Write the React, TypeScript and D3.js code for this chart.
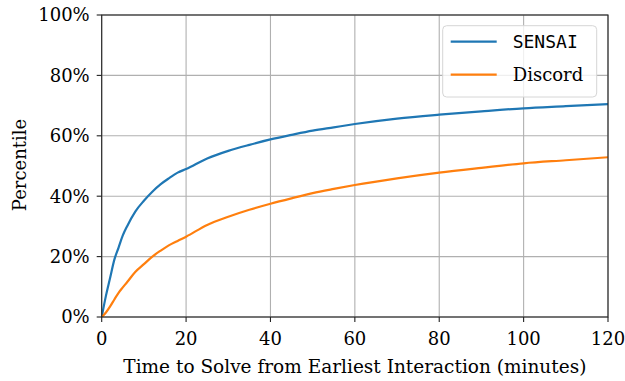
import React from "react";
import * as d3 from "d3";

// minutes since earliest interaction
const minutes = [0, 1, 2, 3, 4, 5, 6, 8, 10, 12, 14, 16, 18, 20, 25, 30, 35, 40, 45, 50, 55, 60, 70, 80, 90, 100, 110, 120];
// cumulative percentile of solved threads
const sensai = [0, 7, 13, 19, 23, 27, 30, 35, 38.5, 41.5, 44, 46, 47.8, 49, 52.5, 55, 57, 58.8, 60.3, 61.7, 62.8, 63.9, 65.7, 67, 68.1, 69.1, 69.8, 70.5];
const discord = [0, 1.5, 3.5, 5.8, 8, 9.8, 11.5, 15, 17.5, 20, 22, 23.8, 25.2, 26.6, 30.5, 33.2, 35.5, 37.5, 39.3, 41, 42.4, 43.7, 45.9, 47.8, 49.4, 50.9, 51.9, 52.9];
const xTicks = [0, 20, 40, 60, 80, 100, 120];
const yTicks = [0, 20, 40, 60, 80, 100];

const seriesNames = ["SENSAI", "Discord"];
const colors = ["#1f77b4", "#ff7f0e"];

const W = 625;
const H = 381;
const margin = { top: 15, right: 17, bottom: 64, left: 101.7 };
const serif = "DejaVu Serif";
const fs = 18;

const App: React.FC = () => {
  const iw = W - margin.left - margin.right;
  const ih = H - margin.top - margin.bottom;

  const x = d3.scaleLinear().domain([0, 120]).range([0, iw]);
  const y = d3.scaleLinear().domain([0, 100]).range([ih, 0]);

  const line = d3
    .line<number>()
    .curve(d3.curveMonotoneX)
    .x((_, i) => x(minutes[i]))
    .y(d => y(d));

  const series = [sensai, discord];

  return (
    <svg width={W} height={H} style={{ position: "absolute", left: 0, top: 0 }}>
      <rect width={W} height={H} fill="#fff" />
      <g transform={`translate(${margin.left},${margin.top})`}>
        {/* grid */}
        {xTicks.map(t => (
          <line key={"gx" + t} x1={x(t)} x2={x(t)} y1={0} y2={ih} stroke="#b0b0b0" strokeWidth={1.1} />
        ))}
        {yTicks.map(t => (
          <line key={"gy" + t} x1={0} x2={iw} y1={y(t)} y2={y(t)} stroke="#b0b0b0" strokeWidth={1.1} />
        ))}

        <clipPath id="plot-clip">
          <rect x={0} y={0} width={iw} height={ih} />
        </clipPath>
        <g clipPath="url(#plot-clip)">
          {series.map((s, i) => (
            <path key={i} d={line(s) || ""} fill="none" stroke={colors[i]} strokeWidth={2.2} strokeLinejoin="round" />
          ))}
        </g>

        {/* spines */}
        <rect x={0} y={0} width={iw} height={ih} fill="none" stroke="#222" strokeWidth={1.1} />

        {/* x ticks */}
        {xTicks.map(t => (
          <g key={"xt" + t} transform={`translate(${x(t)},${ih})`}>
            <line y2={5} stroke="#222" strokeWidth={1.1} />
            <text y={28} textAnchor="middle" fontFamily={serif} fontSize={fs} fill="#000">
              {t}
            </text>
          </g>
        ))}
        {/* y ticks */}
        {yTicks.map(t => (
          <g key={"yt" + t} transform={`translate(0,${y(t)})`}>
            <line x2={-5} stroke="#222" strokeWidth={1.1} />
            <text x={-12} dy="0.36em" textAnchor="end" fontFamily={serif} fontSize={fs} fill="#000">
              {t}%
            </text>
          </g>
        ))}

        {/* axis labels */}
        <text x={iw / 2} y={ih + 56} textAnchor="middle" fontFamily={serif} fontSize={18.5} fill="#000">
          Time to Solve from Earliest Interaction (minutes)
        </text>
        <text
          transform={`translate(${-75.7},${ih / 2 - 1}) rotate(-90)`}
          textAnchor="middle"
          fontFamily={serif}
          fontSize={fs}
          fill="#000"
        >
          Percentile
        </text>

        {/* legend */}
        <g transform={`translate(${442.7 - margin.left},${25.7 - margin.top})`}>
          <rect width={154} height={71.3} rx={4} fill="#fff" fillOpacity={0.8} stroke="#d6d6d6" strokeWidth={1} />
          {seriesNames.map((n, i) => (
            <g key={n} transform={`translate(0,${16 + i * 33})`}>
              <line x1={8} x2={54} stroke={colors[i]} strokeWidth={2.2} />
              <text
                x={70}
                dy="0.36em"
                fontFamily={i === 0 ? "DejaVu Sans Mono" : serif}
                fontSize={fs}
                fill="#000"
              >
                {n}
              </text>
            </g>
          ))}
        </g>
      </g>
    </svg>
  );
};

export default App;
